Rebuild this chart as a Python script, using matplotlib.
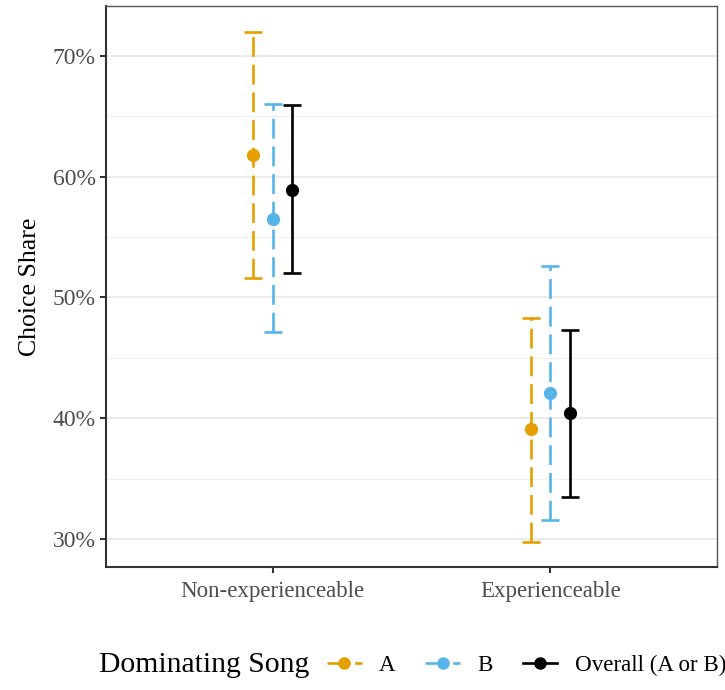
import matplotlib
matplotlib.use("Agg")
import matplotlib.pyplot as plt
from matplotlib.lines import Line2D
import numpy as np

plt.rcParams['font.family'] = ['Liberation Serif', 'DejaVu Serif']

# Data: choice share (%) by condition and dominating song
conditions = ["Non-experienceable", "Experienceable"]
groups = ["A", "B", "Overall (A or B)"]
means = {
    "A": [61.8, 39.1],
    "B": [56.5, 42.1],
    "Overall (A or B)": [58.9, 40.4],
}
lower = {
    "A": [51.6, 29.8],
    "B": [47.1, 31.6],
    "Overall (A or B)": [52.0, 33.5],
}
upper = {
    "A": [72.0, 48.3],
    "B": [66.0, 52.6],
    "Overall (A or B)": [65.9, 47.3],
}
y_ticks = [30, 40, 50, 60, 70]

colors = {"A": "#E69F00", "B": "#56B4E9", "Overall (A or B)": "#000000"}
styles = {"A": (0, (7.5, 3)), "B": (0, (7.5, 3)), "Overall (A or B)": "-"}
offsets = {"A": -0.07, "B": 0.0, "Overall (A or B)": 0.07}

fig = plt.figure(figsize=(7.25, 6.9), dpi=100)
ax = fig.add_axes([106 / 725, 1 - 567 / 690, 611 / 725, 561 / 690])

x = np.arange(len(conditions))
lw = 1.9
for g in groups:
    m = np.array(means[g])
    lo = m - np.array(lower[g])
    hi = np.array(upper[g]) - m
    xs = x + offsets[g]
    eb = ax.errorbar(xs, m, yerr=[lo, hi], fmt='o', color=colors[g],
                     markersize=8.5, elinewidth=lw, capsize=6.5, capthick=lw,
                     zorder=3)
    eb[2][0].set_linestyle(styles[g])

# y range with 5% padding around data
all_vals = [v for g in groups for v in lower[g] + upper[g]]
ymin, ymax = min(all_vals), max(all_vals)
pad = 0.05 * (ymax - ymin)
ax.set_ylim(ymin - pad, ymax + pad)
ax.set_xlim(-0.6, 1.6)

ax.set_yticks(y_ticks)
ax.set_yticklabels([f"{t}%" for t in y_ticks])
ax.set_yticks([35, 45, 55, 65], minor=True)
ax.set_xticks(x)
ax.set_xticklabels(conditions)

ax.grid(axis='y', which='major', color='#E5E5E5', linewidth=1.1, zorder=0)
ax.grid(axis='y', which='minor', color='#F0F0F0', linewidth=0.8, zorder=0)
ax.set_axisbelow(True)

for side in ['top', 'right']:
    ax.spines[side].set_color('#555555')
    ax.spines[side].set_linewidth(1.0)
for side in ['left', 'bottom']:
    ax.spines[side].set_color('#333333')
    ax.spines[side].set_linewidth(1.5)

ax.tick_params(axis='both', which='major', length=4, width=1.5, color='#333333',
               labelcolor='#4D4D4D')
ax.tick_params(axis='y', which='major', labelsize=17)
ax.tick_params(axis='x', which='major', labelsize=16.5, pad=6)
ax.tick_params(axis='y', which='minor', length=0)

ax.set_ylabel("Choice Share", fontsize=18.5, color='black', labelpad=8)

# Legend along the bottom with title on the left
fig.text(99 / 725, 1 - 665 / 690, "Dominating Song", fontsize=21.3,
         va='center', ha='left')
handles = [Line2D([0], [0], color=colors[g], linestyle=styles[g], linewidth=lw,
                  marker='o', markersize=8) for g in groups]
fig.legend(handles, ["A", "B", "Overall (A or B)"], ncol=3, frameon=False,
           loc='center left', bbox_to_anchor=(327 / 725, 1 - 665 / 690),
           fontsize=16.6, handlelength=1.5, columnspacing=1.3, handletextpad=0.75,
           borderaxespad=0, borderpad=0)

fig.savefig("out.png", dpi=100, facecolor='white')
